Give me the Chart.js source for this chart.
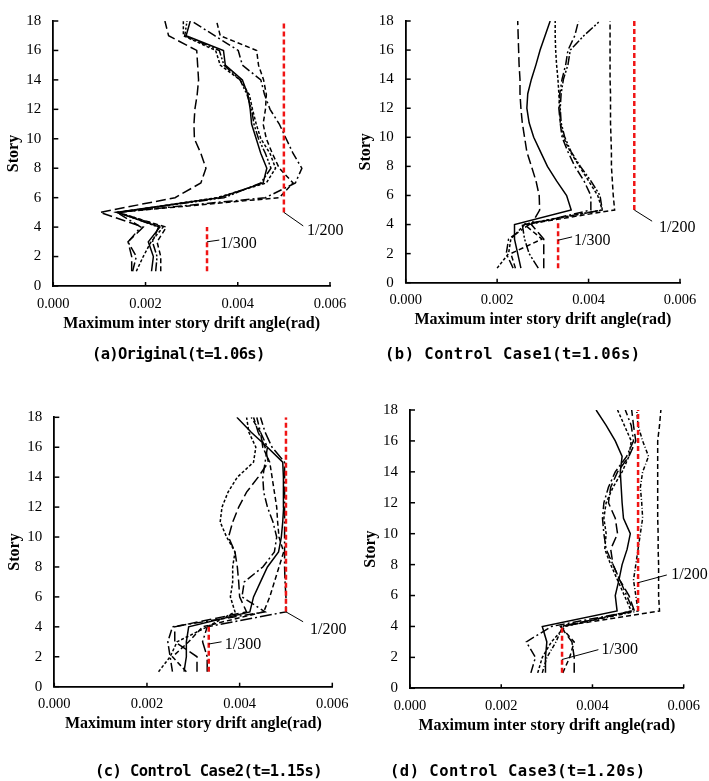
<!DOCTYPE html>
<html><head><meta charset="utf-8">
<script src="https://cdn.jsdelivr.net/npm/chart.js@4.4.1/dist/chart.umd.min.js"></script>
<style>
html,body{margin:0;padding:0;background:#fff;width:709px;height:781px;overflow:hidden;position:relative;}
canvas{position:absolute;left:0;top:0;}
.cap{position:absolute;font-family:"DejaVu Sans Mono",monospace;font-weight:bold;font-size:15.5px;line-height:20px;white-space:nowrap;color:#000;}
</style></head><body>
<canvas id="pa" width="709" height="781"></canvas>
<canvas id="pb" width="709" height="781"></canvas>
<canvas id="pc" width="709" height="781"></canvas>
<canvas id="pd" width="709" height="781"></canvas>
<div class="cap" style="left:92px;top:344px;letter-spacing:-0.7px">(a)Original(t=1.06s)</div>
<div class="cap" style="left:385px;top:344px;letter-spacing:0.5px">(b) Control Case1(t=1.06s)</div>
<div class="cap" style="left:95px;top:761px;letter-spacing:-0.6px">(c) Control Case2(t=1.15s)</div>
<div class="cap" style="left:390px;top:761px;letter-spacing:0.5px">(d) Control Case3(t=1.20s)</div>
<script>
// ---------- data ----------
const stories = [1,2,3,4,5,6,7,8,9,10,11,12,13,14,15,16,17,18];
const xTickValues = [0, 0.002, 0.004, 0.006];
const xTickLabels = ['0.000','0.002','0.004','0.006'];
const yTickValues = [0,2,4,6,8,10,12,14,16,18];
const yTickLabels = ['0','2','4','6','8','10','12','14','16','18'];
const limit200 = 0.005;      // 1/200 rad
const limit300 = 1/300;      // 1/300 rad

// (a) Original
const a_solid      = [0.00213,0.00217,0.00206,0.00231,0.00138,0.00360,0.00455,0.00463,0.00450,0.00440,0.00430,0.00427,0.00422,0.00410,0.00373,0.00369,0.00288,0.00297];
const a_longdash   = [0.00170,0.00170,0.00162,0.00195,0.00101,0.00264,0.00320,0.00331,0.00320,0.00306,0.00305,0.00307,0.00312,0.00315,0.00313,0.00311,0.00250,0.00242];
const a_dash       = [0.00233,0.00233,0.00225,0.00245,0.00138,0.00490,0.00520,0.00490,0.00475,0.00462,0.00455,0.00460,0.00462,0.00456,0.00445,0.00441,0.00362,0.00354];
const a_dashdot    = [0.00172,0.00180,0.00162,0.00190,0.00138,0.00460,0.00525,0.00539,0.00520,0.00505,0.00490,0.00470,0.00458,0.00450,0.00410,0.00401,0.00350,0.00300];
const a_short      = [0.00180,0.00195,0.00212,0.00238,0.00142,0.00355,0.00462,0.00482,0.00470,0.00450,0.00440,0.00432,0.00425,0.00405,0.00362,0.00352,0.00282,0.00282];
const a_dashdotdot = [0.00222,0.00225,0.00215,0.00228,0.00140,0.00370,0.00450,0.00472,0.00460,0.00445,0.00435,0.00430,0.00420,0.00405,0.00370,0.00360,0.00285,0.00290];

// (b) Control Case1
const b_solid      = [0.00252,0.00245,0.00238,0.00238,0.00362,0.00352,0.00330,0.00310,0.00295,0.00280,0.00270,0.00265,0.00267,0.00275,0.00285,0.00294,0.00305,0.00316];
const b_longdash   = [0.00302,0.00302,0.00302,0.00275,0.00293,0.00292,0.00285,0.00275,0.00265,0.00260,0.00255,0.00252,0.00250,0.00250,0.00248,0.00247,0.00246,0.00245];
const b_dash       = [0.00240,0.00230,0.00298,0.00260,0.00457,0.00454,0.00452,0.00450,0.00450,0.00449,0.00448,0.00448,0.00448,0.00447,0.00447,0.00447,0.00447,0.00447];
const b_short      = [0.00200,0.00225,0.00230,0.00260,0.00430,0.00420,0.00400,0.00380,0.00360,0.00345,0.00338,0.00337,0.00335,0.00333,0.00330,0.00328,0.00327,0.00327];
const b_dashdot    = [0.00235,0.00220,0.00225,0.00270,0.00405,0.00405,0.00390,0.00370,0.00355,0.00342,0.00338,0.00335,0.00337,0.00342,0.00350,0.00355,0.00370,0.00378];
const b_dashdotdot = [0.00290,0.00270,0.00260,0.00255,0.00430,0.00425,0.00405,0.00382,0.00362,0.00348,0.00340,0.00338,0.00340,0.00345,0.00355,0.00360,0.00390,0.00425];

// (c) Control Case2
const c_solid      = [0.00280,0.00285,0.00285,0.00290,0.00422,0.00430,0.00445,0.00460,0.00484,0.00490,0.00493,0.00495,0.00495,0.00494,0.00493,0.00460,0.00425,0.00394];
const c_short      = [0.00225,0.00250,0.00265,0.00330,0.00390,0.00380,0.00385,0.00385,0.00390,0.00372,0.00358,0.00362,0.00375,0.00395,0.00430,0.00435,0.00420,0.00415];
const c_longdash   = [0.00308,0.00308,0.00260,0.00260,0.00415,0.00400,0.00398,0.00395,0.00390,0.00376,0.00385,0.00398,0.00415,0.00440,0.00462,0.00455,0.00440,0.00430];
const c_dashdot    = [0.00255,0.00250,0.00245,0.00255,0.00455,0.00405,0.00410,0.00450,0.00475,0.00480,0.00472,0.00460,0.00452,0.00450,0.00455,0.00460,0.00445,0.00437];
const c_longdashdot= [0.00330,0.00330,0.00320,0.00330,0.00500,0.00500,0.00498,0.00497,0.00497,0.00497,0.00497,0.00497,0.00497,0.00497,0.00497,0.00470,0.00455,0.00445];
const c_dash       = [0.00285,0.00255,0.00290,0.00320,0.00452,0.00465,0.00475,0.00485,0.00495,0.00485,0.00482,0.00480,0.00475,0.00470,0.00465,0.00450,0.00445,0.00425];

// (d) Control Case3
const d_solid      = [0.00297,0.00297,0.00300,0.00290,0.00454,0.00450,0.00458,0.00465,0.00476,0.00483,0.00468,0.00465,0.00463,0.00461,0.00465,0.00450,0.00430,0.00408];
const d_dash       = [0.00335,0.00350,0.00360,0.00330,0.00547,0.00545,0.00545,0.00545,0.00544,0.00544,0.00543,0.00543,0.00543,0.00543,0.00543,0.00543,0.00547,0.00550];
const d_dashdot    = [0.00265,0.00275,0.00255,0.00310,0.00490,0.00475,0.00460,0.00445,0.00430,0.00425,0.00422,0.00425,0.00435,0.00450,0.00475,0.00490,0.00485,0.00472];
const d_longdash   = [0.00360,0.00360,0.00355,0.00330,0.00492,0.00480,0.00460,0.00445,0.00440,0.00455,0.00450,0.00435,0.00440,0.00455,0.00480,0.00495,0.00490,0.00486];
const d_dotdash    = [0.00290,0.00300,0.00320,0.00335,0.00500,0.00495,0.00490,0.00495,0.00500,0.00505,0.00510,0.00508,0.00505,0.00510,0.00523,0.00510,0.00500,0.00497];
const d_short      = [0.00280,0.00290,0.00310,0.00340,0.00485,0.00470,0.00455,0.00440,0.00427,0.00430,0.00425,0.00430,0.00445,0.00465,0.00480,0.00485,0.00470,0.00455];

// red limit lines: story ranges
const red200Stories = [5, 18];
const a_red300Stories = [1, 4];
const b_red300Stories = [1, 4.1];
const c_red300Stories = [1, 4.2];
const d_red300Stories = [1, 4];

// ---------- styles ----------
const dashStyles = {
  solid: [], longdash: [10,4], dash: [5,3], short: [3,2],
  dashdot: [9,3,2,3], dashdotdot: [9,2,2,2,2,2], longdashdot: [12,3,2,3], dotdash: [4,2,1,2]
};

function pts(vals){ return vals.map((v,i)=>({x:v, y:stories[i]})); }
function vline(xv, ys){ return ys.map(s=>({x:xv, y:s})); }

const decoPlugin = {
  id:'deco',
  afterDatasetsDraw(chart, args, opts){
    const {ctx, chartArea:ca, scales:{x,y}} = chart;
    ctx.save();
    ctx.strokeStyle='#000'; ctx.lineWidth=1.5; ctx.setLineDash([]);
    yTickValues.forEach(v=>{const py=y.getPixelForValue(v); ctx.beginPath(); ctx.moveTo(ca.left,py); ctx.lineTo(ca.left+5,py); ctx.stroke();});
    xTickValues.forEach(v=>{const px=x.getPixelForValue(v); ctx.beginPath(); ctx.moveTo(px,ca.bottom); ctx.lineTo(px,ca.bottom-4); ctx.stroke();});
    ctx.lineWidth=1;
    ctx.font='16px "Liberation Serif"'; ctx.textBaseline='middle'; ctx.textAlign='left'; ctx.fillStyle='#000';
    (opts.notes||[]).forEach(n=>{
      ctx.beginPath();
      ctx.moveTo(x.getPixelForValue(n.from[0]), y.getPixelForValue(n.from[1]));
      ctx.lineTo(x.getPixelForValue(n.to[0]), y.getPixelForValue(n.to[1]));
      ctx.stroke();
      ctx.fillText(n.text, x.getPixelForValue(n.at[0]), y.getPixelForValue(n.at[1]));
    });
    ctx.restore();
  }
};

const YW = 49, XH = 47;
function buildPanel(id, box, series, red300, notes){
  const datasets = [
    {data: vline(limit200, red200Stories), borderColor:'#f01414', borderWidth:2.5, borderDash:[5,3]},
    {data: vline(limit300, red300), borderColor:'#f01414', borderWidth:2.5, borderDash:[5,3]}
  ];
  series.forEach(s=>datasets.push({data: pts(s.vals), borderColor:'#000', borderWidth:1.5, borderDash: dashStyles[s.style]}));
  datasets.forEach(d=>{ d.pointRadius=0; d.tension=0; d.fill=false; });
  const serif = 'Liberation Serif';
  new Chart(document.getElementById(id), {
    type:'line',
    data:{datasets},
    options:{
      responsive:false, animation:false, devicePixelRatio:1,
      layout:{padding:{left:box.L-YW, top:box.T, right:709-box.R, bottom:781-box.B-XH}},
      plugins:{legend:{display:false}, tooltip:{enabled:false}, deco:{notes}},
      scales:{
        x:{type:'linear', min:0, max:0.006,
           afterBuildTicks:(s)=>{ s.ticks = xTickValues.map(v=>({value:v})); },
           afterFit:(s)=>{ s.height = XH; },
           grid:{display:false, drawTicks:false},
           border:{display:true, color:'#000', width:1.8},
           ticks:{padding:9, color:'#000', font:{family:serif, size:14.5}, maxRotation:0, autoSkip:false,
                  callback:(v,i)=>xTickLabels[i]},
           title:{display:true, text:'Maximum inter story drift angle(rad)', color:'#000', padding:0,
                  font:{family:serif, size:16, weight:'bold'}}},
        y:{type:'linear', min:0, max:18,
           afterBuildTicks:(s)=>{ s.ticks = yTickValues.map(v=>({value:v})); },
           afterFit:(s)=>{ s.width = YW; },
           grid:{display:false, drawTicks:false},
           border:{display:true, color:'#000', width:1.8},
           ticks:{padding:12, color:'#000', font:{family:serif, size:15}, autoSkip:false,
                  callback:(v,i)=>yTickLabels[i]},
           title:{display:true, text:'Story', color:'#000', padding:0,
                  font:{family:serif, size:16, weight:'bold'}}}
      }
    },
    plugins:[decoPlugin]
  });
}

buildPanel('pa', {L:53.3, T:16.7, R:330, B:286}, [
  {vals:a_solid, style:'solid'}, {vals:a_longdash, style:'longdash'}, {vals:a_dash, style:'dash'},
  {vals:a_dashdot, style:'dashdot'}, {vals:a_short, style:'short'}, {vals:a_dashdotdot, style:'dashdotdot'}
], a_red300Stories, [
  {text:'1/200', from:[0.005,5], to:[0.00542,4.08], at:[0.00550,3.74]},
  {text:'1/300', from:[0.00333,3.0], to:[0.00360,3.12], at:[0.00362,2.87]}
]);
buildPanel('pb', {L:405.7, T:15.7, R:680, B:282.7}, [
  {vals:b_solid, style:'solid'}, {vals:b_longdash, style:'longdash'}, {vals:b_dash, style:'dash'},
  {vals:b_short, style:'short'}, {vals:b_dashdot, style:'dashdot'}, {vals:b_dashdotdot, style:'dashdotdot'}
], b_red300Stories, [
  {text:'1/200', from:[0.005,5], to:[0.00539,4.23], at:[0.00554,3.78]},
  {text:'1/300', from:[0.00333,2.92], to:[0.00364,3.15], at:[0.00368,2.88]}
]);
buildPanel('pc', {L:54.3, T:417.3, R:332.3, B:686.7}, [
  {vals:c_solid, style:'solid'}, {vals:c_short, style:'short'}, {vals:c_longdash, style:'longdash'},
  {vals:c_dashdot, style:'dashdot'}, {vals:c_longdashdot, style:'longdashdot'}, {vals:c_dash, style:'dash'}
], c_red300Stories, [
  {text:'1/200', from:[0.005,5], to:[0.00537,4.34], at:[0.00552,3.79]},
  {text:'1/300', from:[0.00333,2.85], to:[0.00361,3.0], at:[0.00368,2.79]}
]);
buildPanel('pd', {L:410, T:410, R:689.7, B:688.3}, [
  {vals:d_solid, style:'solid'}, {vals:d_dash, style:'dash'}, {vals:d_dashdot, style:'dashdot'},
  {vals:d_longdash, style:'longdash'}, {vals:d_dotdash, style:'dotdash'}, {vals:d_short, style:'short'}
], d_red300Stories, [
  {text:'1/200', from:[0.005,6.83], to:[0.00563,7.33], at:[0.00573,7.37]},
  {text:'1/300', from:[0.00333,1.86], to:[0.00413,2.5], at:[0.00420,2.48]}
]);
</script>
</body></html>
